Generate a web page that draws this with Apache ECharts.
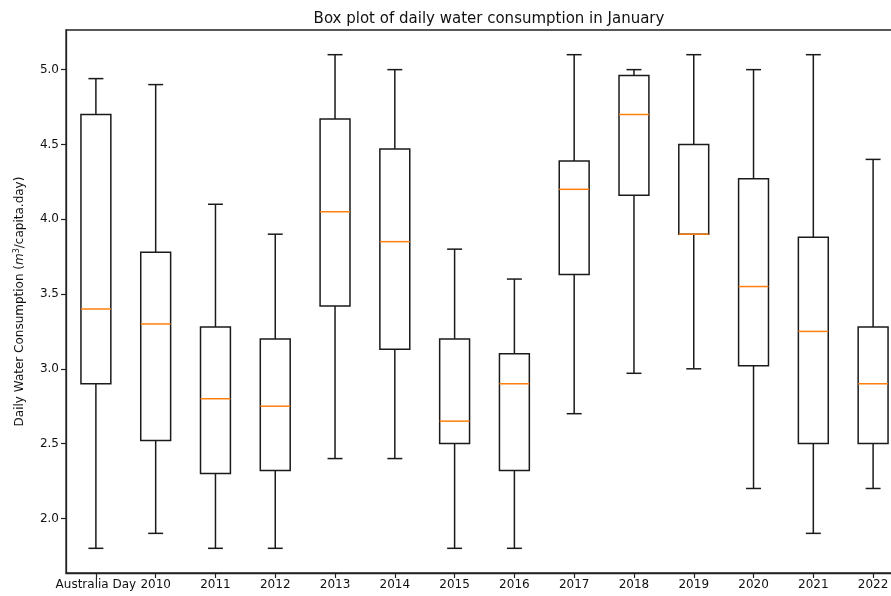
<!DOCTYPE html>
<html>
<head>
<meta charset="utf-8">
<script src="https://cdn.jsdelivr.net/npm/echarts@6/dist/echarts.min.js"></script>
<style>html,body{margin:0;padding:0;background:#fff}#chart{width:891px;height:596px}</style>
</head>
<body>
<div id="chart"></div>
<script>
const categories = ["Australia Day","2010","2011","2012","2013","2014","2015","2016","2017","2018","2019","2020","2021","2022"];
const lows    = [1.80, 1.90, 1.80, 1.80, 2.40, 2.40, 1.80, 1.80, 2.70, 2.97, 3.00, 2.20, 1.90, 2.20];
const q1s     = [2.90, 2.52, 2.30, 2.32, 3.42, 3.13, 2.50, 2.32, 3.63, 4.16, 3.90, 3.02, 2.50, 2.50];
const medians = [3.40, 3.30, 2.80, 2.75, 4.05, 3.85, 2.65, 2.90, 4.20, 4.70, 3.90, 3.55, 3.25, 2.90];
const q3s     = [4.70, 3.78, 3.28, 3.20, 4.67, 4.47, 3.20, 3.10, 4.39, 4.96, 4.50, 4.27, 3.88, 3.28];
const highs   = [4.94, 4.90, 4.10, 3.90, 5.10, 5.00, 3.80, 3.60, 5.10, 5.00, 5.10, 5.00, 5.10, 4.40];
const yTicks  = [2.0, 2.5, 3.0, 3.5, 4.0, 4.5, 5.0];

const data = categories.map((c, i) => [i, lows[i], q1s[i], medians[i], q3s[i], highs[i]]);

const chart = echarts.init(document.getElementById('chart'), null, {renderer: 'canvas'});
const FONT = 'DejaVu Sans';
const lineW = 1.5;

chart.setOption({
  animation: false,
  backgroundColor: '#fff',
  title: {
    text: 'Box plot of daily water consumption in January',
    left: 484, top: 7, textAlign: 'center',
    textStyle: {fontFamily: FONT, fontSize: 15, fontWeight: 'normal', color: '#111'}
  },
  grid: {left: 66, top: 30, width: 837, height: 543, outerBoundsMode: 'none', containLabel: false,
    show: true, borderColor: '#222', borderWidth: 1.3, backgroundColor: 'transparent'},
  xAxis: {
    type: 'category',
    data: categories,
    boundaryGap: true,
    axisLine: {show: true, lineStyle: {color: '#222', width: 1.3}},
    axisTick: {show: true, alignWithLabel: true, length: 5, lineStyle: {color: '#222', width: 1.2}},
    axisLabel: {interval: 0, fontFamily: FONT, fontSize: 12, color: '#111', margin: 6},
    splitLine: {show: false}
  },
  yAxis: {
    type: 'value',
    min: 1.635, max: 5.265,
    name: 'Daily Water Consumption ({i|m}{s|3}/capita.day)',
    nameLocation: 'middle',
    nameGap: 39,
    nameTextStyle: {
      fontFamily: FONT, fontSize: 12, color: '#111',
      rich: {
        i: {fontFamily: FONT, fontSize: 12, fontStyle: 'italic', color: '#111'},
        s: {fontFamily: FONT, fontSize: 8, color: '#111', verticalAlign: 'top', padding: [0,0,6,0]}
      }
    },
    axisLine: {show: true, lineStyle: {color: '#222', width: 1.3}},
    axisTick: {show: true, length: 5, customValues: yTicks, lineStyle: {color: '#222', width: 1.2}},
    axisLabel: {customValues: yTicks, fontFamily: FONT, fontSize: 12, color: '#111', margin: 7,
      formatter: v => Number(v).toFixed(1)},
    splitLine: {show: false}
  },
  series: [{
    type: 'custom',
    data: data,
    encode: {x: 0, y: [1, 2, 3, 4, 5]},
    renderItem: function (params, api) {
      const idx = api.value(0);
      const low = api.coord([idx, api.value(1)]);
      const q1 = api.coord([idx, api.value(2)]);
      const med = api.coord([idx, api.value(3)]);
      const q3 = api.coord([idx, api.value(4)]);
      const high = api.coord([idx, api.value(5)]);
      const band = api.size([1, 0])[0];
      const hw = band * 0.25;
      const cw = hw / 2;
      const cx = low[0];
      const st = {stroke: '#1a1a1a', lineWidth: lineW, fill: null};
      return {
        type: 'group',
        children: [
          {type: 'line', shape: {x1: cx, y1: q3[1], x2: cx, y2: high[1]}, style: st},
          {type: 'line', shape: {x1: cx, y1: q1[1], x2: cx, y2: low[1]}, style: st},
          {type: 'line', shape: {x1: cx - cw, y1: high[1], x2: cx + cw, y2: high[1]}, style: st},
          {type: 'line', shape: {x1: cx - cw, y1: low[1], x2: cx + cw, y2: low[1]}, style: st},
          {type: 'rect', shape: {x: cx - hw, y: q3[1], width: hw * 2, height: q1[1] - q3[1]}, style: {stroke: '#1a1a1a', lineWidth: lineW, fill: 'transparent'}},
          {type: 'line', shape: {x1: cx - hw, y1: med[1], x2: cx + hw, y2: med[1]}, style: {stroke: '#ff7f0e', lineWidth: lineW}}
        ]
      };
    }
  }]
});
</script>
</body>
</html>
